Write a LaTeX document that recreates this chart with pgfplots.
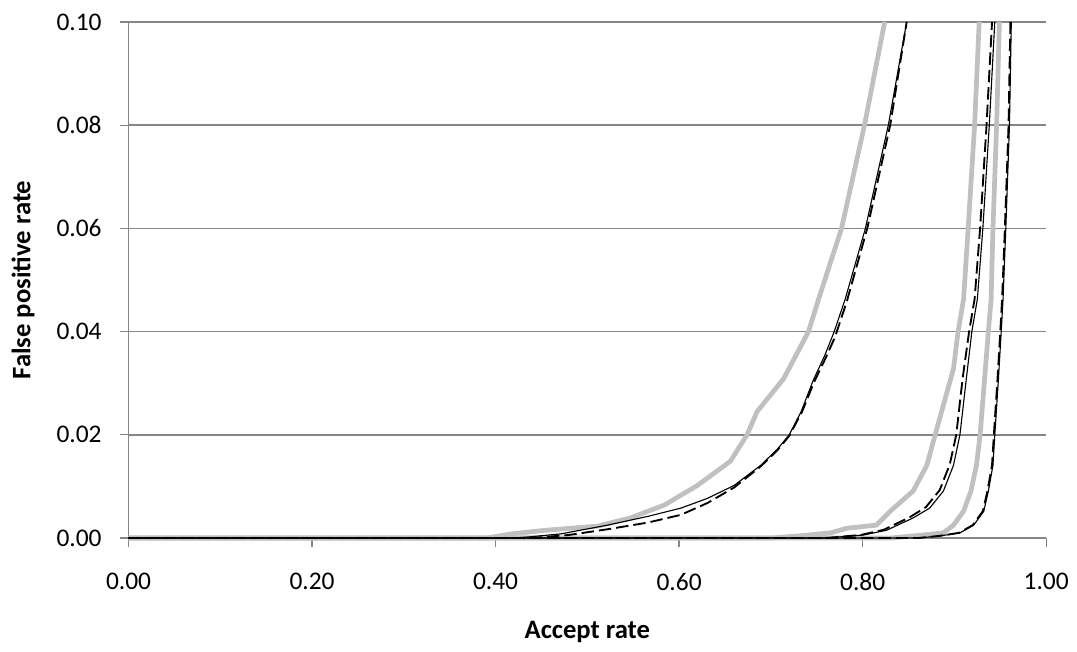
\documentclass[border=0pt]{standalone}
\usepackage{fontspec}
\setmainfont{Carlito}
\usepackage{pgfplots}
\pgfplotsset{compat=1.18}
\definecolor{gridgray}{RGB}{134,134,134}
\definecolor{curvegray}{RGB}{192,192,192}

\begin{document}
\begin{tikzpicture}
\begin{axis}[
    scale only axis,
    width=368.4pt, height=207.2pt,
    xmin=0, xmax=1, ymin=0, ymax=0.1,
    xtick={0,0.2,0.4,0.6,0.8,1},
    ytick={0,0.02,0.04,0.06,0.08,0.1},
    scaled ticks=false,
    axis lines*=left,
    axis line style={gridgray, line width=0.5pt},
    tick style={gridgray, line width=0.5pt},
    tick align=outside,
    major tick length=3.5pt,
    ymajorgrids,
    grid style={gridgray, line width=0.6pt},
    clip=false,
    /pgf/number format/.cd, fixed, fixed zerofill, precision=2, assume math mode=true,
    /pgfplots/.cd,
    tick label style={font=\fontsize{10.2}{12}\selectfont},
    yticklabel style={xshift=-3.8pt},
    xticklabel style={yshift=-7pt},
    xlabel={Accept rate},
    ylabel={False positive rate},
    label style={font=\fontsize{10.7}{13}\selectfont\bfseries},
    x label style={at={(axis description cs:0.5,-0.182)}, anchor=center},
    y label style={at={(axis description cs:-0.115,0.5)}, anchor=center},
]
% gray curves
\addplot[curvegray, line width=1.9pt] coordinates {
(0,0) (0.39,0) (0.417,0.0008) (0.454,0.0015) (0.511,0.0023) (0.547,0.0039) (0.584,0.0064) (0.62,0.0102) (0.656,0.0149) (0.674,0.02) (0.685,0.0245) (0.714,0.0309) (0.741,0.04) (0.752,0.0463) (0.777,0.06) (0.802,0.08) (0.824,0.10)
};
\addplot[curvegray, line width=1.9pt] coordinates {
(0,0) (0.70,0) (0.729,0.0004) (0.765,0.001) (0.783,0.0019) (0.815,0.0025) (0.830,0.0052) (0.855,0.0091) (0.870,0.0141) (0.879,0.02) (0.899,0.0328) (0.904,0.04) (0.910,0.0463) (0.915,0.06) (0.922,0.08) (0.927,0.10)
};
\addplot[curvegray, line width=1.9pt] coordinates {
(0,0) (0.83,0) (0.855,0.0004) (0.888,0.001) (0.899,0.0025) (0.910,0.0052) (0.918,0.0091) (0.924,0.0141) (0.928,0.02) (0.937,0.04) (0.940,0.0463) (0.942,0.06) (0.946,0.08) (0.949,0.10)
};
% solid black
\addplot[black, line width=0.45pt] coordinates {
(0,0) (0.42,0) (0.435,0.0002) (0.471,0.0008) (0.522,0.0025) (0.566,0.0042) (0.602,0.0058) (0.631,0.0077) (0.660,0.0102) (0.689,0.0141) (0.707,0.0172) (0.720,0.0200) (0.733,0.0245) (0.746,0.0305) (0.759,0.0355) (0.769,0.04) (0.781,0.0463) (0.803,0.06) (0.828,0.08) (0.848,0.10)
};
\addplot[black, line width=0.45pt] coordinates {
(0,0) (0.76,0) (0.801,0.0006) (0.826,0.0015) (0.855,0.0039) (0.873,0.0058) (0.888,0.0091) (0.899,0.0141) (0.906,0.02) (0.913,0.0309) (0.919,0.04) (0.925,0.0463) (0.931,0.06) (0.938,0.08) (0.944,0.10)
};
\addplot[black, line width=0.45pt] coordinates {
(0,0) (0.86,0) (0.884,0.0004) (0.906,0.001) (0.921,0.0025) (0.932,0.0052) (0.937,0.0091) (0.942,0.0141) (0.944,0.02) (0.948,0.0309) (0.951,0.04) (0.953,0.0463) (0.956,0.06) (0.960,0.08) (0.962,0.10)
};
% dashed black
\addplot[black, line width=0.75pt, dash pattern=on 5pt off 2pt] coordinates {
(0,0) (0.44,0) (0.48,0.0006) (0.522,0.0017) (0.566,0.003) (0.602,0.0045) (0.631,0.0068) (0.660,0.0098) (0.689,0.0139) (0.707,0.0170) (0.720,0.0198) (0.734,0.0245) (0.747,0.0302) (0.760,0.035) (0.770,0.039) (0.783,0.046) (0.805,0.06) (0.830,0.08) (0.848,0.10)
};
\addplot[black, line width=0.75pt, dash pattern=on 5pt off 2pt] coordinates {
(0,0) (0.76,0) (0.798,0.0006) (0.823,0.0016) (0.851,0.004) (0.869,0.006) (0.884,0.0093) (0.895,0.0143) (0.902,0.02) (0.909,0.031) (0.916,0.04) (0.922,0.0463) (0.928,0.06) (0.935,0.08) (0.941,0.10)
};
\addplot[black, line width=0.75pt, dash pattern=on 5pt off 2pt] coordinates {
(0,0) (0.86,0) (0.883,0.0004) (0.905,0.001) (0.920,0.0025) (0.931,0.0052) (0.936,0.0091) (0.941,0.0141) (0.943,0.02) (0.947,0.0309) (0.950,0.04) (0.952,0.0463) (0.955,0.06) (0.959,0.08) (0.961,0.10)
};
\end{axis}
\useasboundingbox (-51.6pt,-42pt) rectangle (379.2pt,216pt);
\end{tikzpicture}
\end{document}
